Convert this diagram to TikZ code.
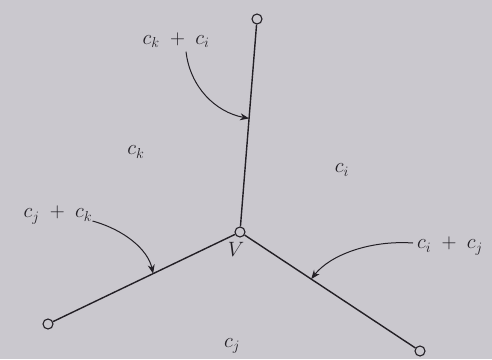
\documentclass[tikz,border=0pt]{standalone}
\usetikzlibrary{arrows.meta}
\definecolor{paper}{RGB}{202,200,206}
\definecolor{ink}{RGB}{35,32,38}
\begin{document}
\begin{tikzpicture}[x=1pt,y=-1pt,
  vert/.style={circle,draw=ink,fill=paper,line width=1.1pt,inner sep=0pt,minimum size=10pt},
  edge/.style={draw=ink,line width=1.4pt},
  pointer/.style={draw=ink,line width=1pt,-{Stealth[length=9pt,width=7pt]}},
  lab/.style={text=ink,font=\fontsize{22}{26}\selectfont,inner sep=0pt}]
\fill[paper] (0,0) rectangle (492,359);
\useasboundingbox (0,0) rectangle (492,359);
\node[vert] (V) at (240,232) {};
\node[vert] (T) at (257,19) {};
\node[vert] (L) at (48,324) {};
\node[vert] (R) at (420,351) {};
\path[edge] (V) -- (T) coordinate[pos=0.535] (tt);
\path[edge] (V) -- (L) coordinate[pos=0.45] (tl);
\path[edge] (V) -- (R) coordinate[pos=0.39] (tr);
\node[lab] (lki) at (176,40) {$c_k \;+\; c_i$};
\node[lab] (ljk) at (58,215) {$c_j \;+\; c_k$};
\node[lab] (lij) at (450,246) {$c_i \;+\; c_j$};
\node[lab] at (136,152) {$c_k$};
\node[lab] at (342,170) {$c_i$};
\node[lab] at (232,346) {$c_j$};
\node[lab] at (236,249) {$V$};
\draw[pointer] (lki.south) ++(10,4) .. controls +(4,35) and (215,112) .. (tt);
\draw[pointer] (ljk.east) ++(0,6) .. controls (125,230) and (148,250) .. (tl);
\draw[pointer] (lij.west) ++(-4,-3) .. controls (370,240) and (330,255) .. (tr);
\end{tikzpicture}
\end{document}
